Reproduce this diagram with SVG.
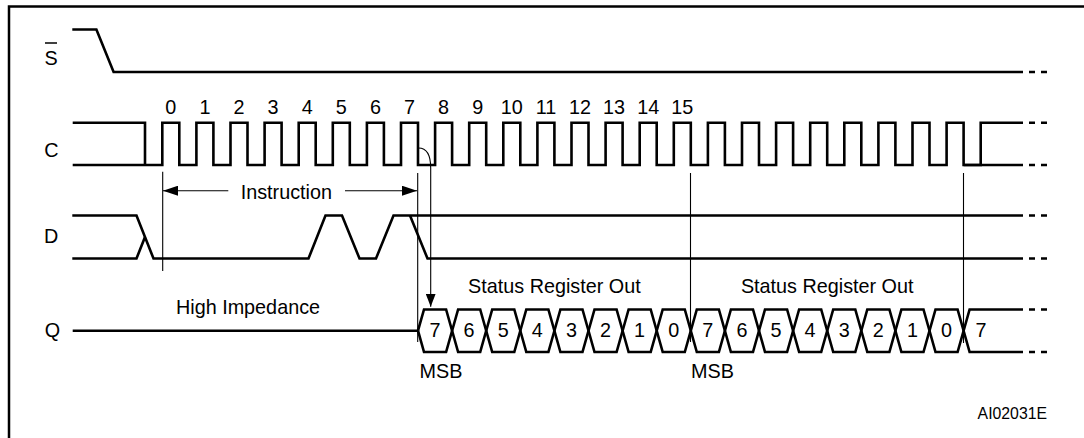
<svg xmlns="http://www.w3.org/2000/svg" width="1084" height="438" viewBox="0 0 1084 438">
<style>
.sig{fill:none;stroke:#000;stroke-width:2.6;stroke-linejoin:miter}
.thin{fill:none;stroke:#000;stroke-width:1.1}
.dash{fill:none;stroke:#000;stroke-width:2.6;stroke-dasharray:6 6}
text{font-family:"Liberation Sans",Arial,Helvetica,sans-serif;font-size:19.8px;fill:#000}
.mid{text-anchor:middle}
</style>
<defs>
<marker id="ah" viewBox="0 0 15 10" refX="15" refY="5" markerWidth="15" markerHeight="10" markerUnits="userSpaceOnUse" orient="auto">
<path d="M0,0 L15,5 L0,10 Z" fill="#000"/>
</marker>
<marker id="ahs" viewBox="0 0 13 10" refX="13" refY="5" markerWidth="13" markerHeight="10" markerUnits="userSpaceOnUse" orient="auto">
<path d="M0,0 L13,5 L0,10 Z" fill="#000"/>
</marker>
</defs>
<rect width="1084" height="438" fill="#fff"/>
<path d="M9,445 V6.5 H1090" fill="none" stroke="#000" stroke-width="2.5"/>

<g id="signal-S">
<text class="mid" x="51" y="65.3">S</text>
<line x1="45" y1="43" x2="57" y2="43" stroke="#000" stroke-width="1.5"/>
<path class="sig" d="M72.3,29.5 H96.4 L113.6,72 H1023"/>
<line class="dash" x1="1029" y1="72" x2="1050" y2="72"/>
</g>

<g id="signal-C">
<text class="mid" x="51.5" y="157">C</text>
<path class="sig" d="M72.7,122.7 H145 V165"/>
<path class="sig" d="M72.7,165 H162.3 V122.7 H179.3 V165 H196.4 V122.7 H213.4 V165 H230.5 V122.7 H247.5 V165 H264.6 V122.7 H281.6 V165 H298.7 V122.7 H315.7 V165 H332.8 V122.7 H349.8 V165 H366.9 V122.7 H383.9 V165 H401 V122.7 H418 V165 H435.1 V122.7 H452.1 V165 H469.2 V122.7 H486.2 V165 H503.3 V122.7 H520.3 V165 H537.4 V122.7 H554.4 V165 H571.5 V122.7 H588.5 V165 H605.6 V122.7 H622.6 V165 H639.7 V122.7 H656.7 V165 H673.8 V122.7 H690.8 V165 H707.9 V122.7 H724.9 V165 H742 V122.7 H759 V165 H776.1 V122.7 H793.1 V165 H810.2 V122.7 H827.2 V165 H844.3 V122.7 H861.3 V165 H878.4 V122.7 H895.4 V165 H912.5 V122.7 H929.5 V165 H946.6 V122.7 H963.6 V165 H980.7 V122.7 H1023"/>
<path class="sig" d="M963.6,165 H1023"/>
<line class="dash" x1="1029" y1="122.7" x2="1050" y2="122.7"/>
<line class="dash" x1="1029" y1="165" x2="1050" y2="165"/>
<text class="mid" x="170.8" y="114">0</text>
<text class="mid" x="204.9" y="114">1</text>
<text class="mid" x="239" y="114">2</text>
<text class="mid" x="273.1" y="114">3</text>
<text class="mid" x="307.2" y="114">4</text>
<text class="mid" x="341.3" y="114">5</text>
<text class="mid" x="375.4" y="114">6</text>
<text class="mid" x="409.5" y="114">7</text>
<text class="mid" x="443.6" y="114">8</text>
<text class="mid" x="477.7" y="114">9</text>
<text class="mid" x="511.8" y="114">10</text>
<text class="mid" x="545.9" y="114">11</text>
<text class="mid" x="580" y="114">12</text>
<text class="mid" x="614.1" y="114">13</text>
<text class="mid" x="648.2" y="114">14</text>
<text class="mid" x="682.3" y="114">15</text>
</g>

<g id="signal-D">
<text class="mid" x="51.2" y="243.3">D</text>
<path class="sig" d="M72.3,215.5 H136.5 L153.5,258.5 H308.5 L325.5,215.5 H342 L359.5,258.5 H376 L393.5,215.5 H1023"/>
<path class="sig" d="M72.3,258.5 H136.5 L145,237"/>
<path class="sig" d="M410,215.5 L427.5,258.5 H1023"/>
<line class="dash" x1="1029" y1="215.5" x2="1050" y2="215.5"/>
<line class="dash" x1="1029" y1="258.5" x2="1050" y2="258.5"/>
</g>

<g id="signal-Q">
<text class="mid" x="52.5" y="337">Q</text>
<path class="sig" d="M72.7,330.7 H418"/>
<path class="sig" d="M418,330.7 L424,309.5 H446.1 L458.1,352 H480.2 L492.2,309.5 H514.3 L526.3,352 H548.4 L560.4,309.5 H582.5 L594.5,352 H616.6 L628.6,309.5 H650.7 L662.7,352 H684.8 L696.8,309.5 H718.9 L730.9,352 H753 L765,309.5 H787.1 L799.1,352 H821.2 L833.2,309.5 H855.3 L867.3,352 H889.4 L901.4,309.5 H923.5 L935.5,352 H957.6 L969.6,309.5 H1023"/>
<path class="sig" d="M418,330.7 L424,352 H446.1 L458.1,309.5 H480.2 L492.2,352 H514.3 L526.3,309.5 H548.4 L560.4,352 H582.5 L594.5,309.5 H616.6 L628.6,352 H650.7 L662.7,309.5 H684.8 L696.8,352 H718.9 L730.9,309.5 H753 L765,352 H787.1 L799.1,309.5 H821.2 L833.2,352 H855.3 L867.3,309.5 H889.4 L901.4,352 H923.5 L935.5,309.5 H957.6 L969.6,352 H1023"/>
<line class="dash" x1="1029" y1="309.5" x2="1050" y2="309.5"/>
<line class="dash" x1="1029" y1="352" x2="1050" y2="352"/>
<text class="mid" x="435" y="337">7</text>
<text class="mid" x="469.1" y="337">6</text>
<text class="mid" x="503.2" y="337">5</text>
<text class="mid" x="537.3" y="337">4</text>
<text class="mid" x="571.4" y="337">3</text>
<text class="mid" x="605.5" y="337">2</text>
<text class="mid" x="639.6" y="337">1</text>
<text class="mid" x="673.7" y="337">0</text>
<text class="mid" x="707.8" y="337">7</text>
<text class="mid" x="741.9" y="337">6</text>
<text class="mid" x="776" y="337">5</text>
<text class="mid" x="810.1" y="337">4</text>
<text class="mid" x="844.2" y="337">3</text>
<text class="mid" x="878.3" y="337">2</text>
<text class="mid" x="912.4" y="337">1</text>
<text class="mid" x="946.5" y="337">0</text>
<text class="mid" x="981" y="337">7</text>
</g>

<g id="connectors">
<line class="thin" x1="162.7" y1="171.7" x2="162.7" y2="271"/>
<line class="thin" x1="417.7" y1="173" x2="417.7" y2="342"/>
<line class="thin" x1="690.5" y1="173" x2="690.5" y2="342"/>
<line class="thin" x1="963.5" y1="173" x2="963.5" y2="343"/>
<line class="thin" x1="228.3" y1="190.7" x2="163" y2="190.7" marker-end="url(#ah)"/>
<line class="thin" x1="345" y1="190.7" x2="417" y2="190.7" marker-end="url(#ah)"/>
<path class="thin" d="M418.5,148 C426.5,148 430.7,155 430.7,168 V306.7" marker-end="url(#ahs)"/>
</g>

<g id="labels">
<text class="mid" x="286.3" y="199.3">Instruction</text>
<text class="mid" x="248" y="314">High Impedance</text>
<text class="mid" x="554.4" y="293">Status Register Out</text>
<text class="mid" x="827.2" y="293">Status Register Out</text>
<text x="419.5" y="378.3">MSB</text>
<text x="691" y="378.3">MSB</text>
<text x="1047" y="419.3" style="font-size:15.8px;text-anchor:end">AI02031E</text>
</g>
</svg>
